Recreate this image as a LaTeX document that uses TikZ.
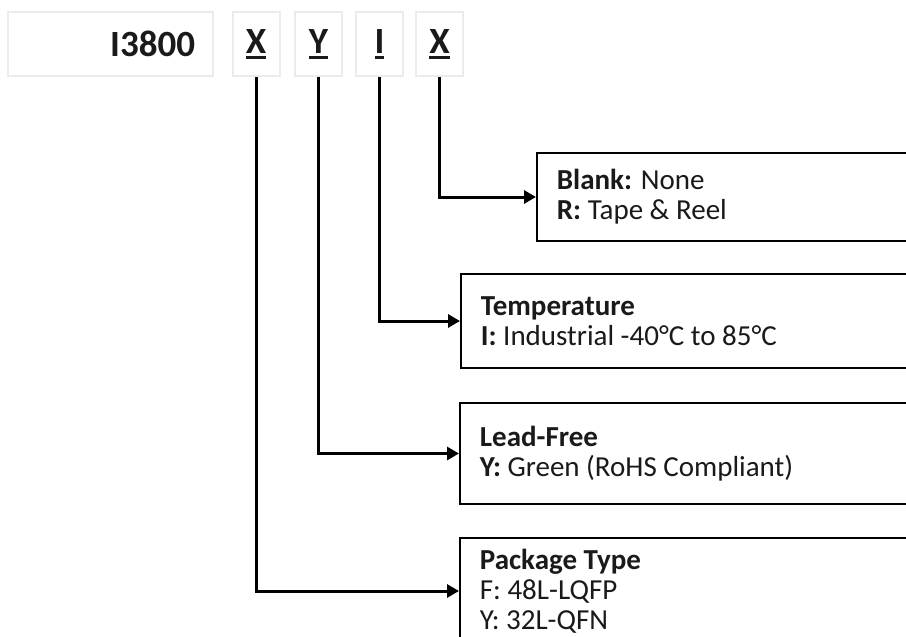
\documentclass[tikz,border=0pt]{standalone}
\usepackage{fontspec}
\setmainfont{Carlito}
\usetikzlibrary{arrows.meta, positioning}
\definecolor{codeborder}{HTML}{EBEBEB}
\definecolor{textdark}{HTML}{1A1A1A}
\newcommand{\thickul}[1]{\setbox0\hbox{#1}\rlap{\rule[-5.5pt]{\wd0}{2.5pt}}\box0}

\begin{document}
\begin{tikzpicture}[x=1pt, y=-1pt, >={Triangle[length=12pt, width=13pt]},
    codebox/.style={draw=codeborder, line width=2pt, minimum height=64pt,
      font=\fontsize{37}{42}\selectfont\bfseries, text=textdark},
    letterbox/.style={codebox, minimum width=47pt, inner sep=0pt},
    descbox/.style={draw, line width=1.8pt, anchor=west, minimum width=500pt,
      text width=460pt, inner xsep=20pt, align=flush left,
      font=\fontsize{29}{30}\selectfont, text=textdark},
    conn/.style={->, line width=3pt}]
  \useasboundingbox (0,0) rectangle (906,637);
  \fill[white] (0,0) rectangle (906,637);

  % part number fields
  \node[codebox, minimum width=205pt, text width=169pt, inner xsep=18pt,
    align=flush right] (base) at (110.5,44) {I3800};
  \node[letterbox] (pkgcode) at (256,44) {\thickul{X}};
  \node[letterbox] (leadcode) at (318.5,44) {\thickul{Y}};
  \node[letterbox] (tempcode) at (379.5,44) {\thickul{I}};
  \node[letterbox] (reelcode) at (439.5,44) {\thickul{X}};

  % descriptions
  \node[descbox, minimum height=88pt] (reel) at (536,197)
    {\textbf{Blank:} None\\\textbf{R:} Tape \& Reel};
  \node[descbox, minimum height=94pt] (temp) at (460,321)
    {\textbf{Temperature}\\\textbf{I:} Industrial -40°C to 85°C};
  \node[descbox, minimum height=101pt] (lead) at (459,453.5)
    {\textbf{Lead-Free}\\\textbf{Y:} Green (RoHS Compliant)};
  \node[descbox, minimum height=106pt] (pkg) at (459,591)
    {\textbf{Package Type}\\F: 48L-LQFP\\Y: 32L-QFN};

  \draw[conn] (reelcode.south) |- (reel.west);
  \draw[conn] (tempcode.south) |- (temp.west);
  \draw[conn] (leadcode.south) |- (lead.west);
  \draw[conn] (pkgcode.south) |- (pkg.west);
\end{tikzpicture}
\end{document}
